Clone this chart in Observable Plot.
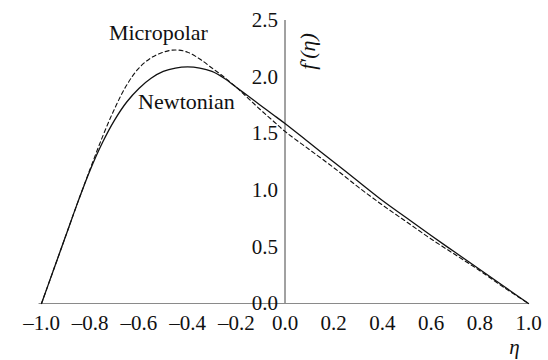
<!DOCTYPE html>
<html>
<head>
<meta charset="utf-8">
<script src="https://cdn.jsdelivr.net/npm/d3@7"></script>
<script src="https://cdn.jsdelivr.net/npm/@observablehq/plot@0.6"></script>
<style>
  html, body { margin: 0; padding: 0; background: #fff; }
  #chart { width: 548px; height: 360px; }
</style>
</head>
<body>
<div id="chart"></div>
<script>
// Velocity profile f'(η) across the channel, Newtonian vs micropolar fluid
const eta = [
  -1.0, -0.95, -0.9, -0.85, -0.8, -0.75, -0.7, -0.65, -0.6, -0.55, -0.5,
  -0.45, -0.4, -0.35, -0.3, -0.25, -0.2, -0.15, -0.1, -0.05, 0.0,
  0.1, 0.2, 0.3, 0.4, 0.5, 0.6, 0.7, 0.8, 0.9, 1.0
];
const newtonian = [
  0, 0.30, 0.60, 0.90, 1.18, 1.42, 1.62, 1.78, 1.90, 1.99, 2.05,
  2.08, 2.09, 2.08, 2.05, 1.99, 1.91, 1.83, 1.75, 1.67, 1.59,
  1.42, 1.25, 1.08, 0.91, 0.755, 0.60, 0.45, 0.30, 0.15, 0
];
const micropolar = [
  0, 0.30, 0.60, 0.90, 1.19, 1.47, 1.72, 1.93, 2.08, 2.17, 2.22,
  2.24, 2.22, 2.16, 2.08, 2.00, 1.91, 1.81, 1.71, 1.615, 1.52,
  1.36, 1.20, 1.03, 0.87, 0.72, 0.57, 0.43, 0.29, 0.14, 0
];

const xTicks = [-1.0, -0.8, -0.6, -0.4, -0.2, 0.0, 0.2, 0.4, 0.6, 0.8, 1.0];
const xTickLabels = ["–1.0", "–0.8", "–0.6", "–0.4", "–0.2", "0.0", "0.2", "0.4", "0.6", "0.8", "1.0"];
const yTicks = [0.0, 0.5, 1.0, 1.5, 2.0, 2.5];
const yTickLabels = ["0.0", "0.5", "1.0", "1.5", "2.0", "2.5"];

const seriesNames = ["Micropolar", "Newtonian"];
const seriesLabelX = [-0.52, -0.405];
const seriesLabelY = [2.39, 1.78];

const newtonianRows = eta.map((e, i) => ({eta: e, f: newtonian[i]}));
const micropolarRows = eta.map((e, i) => ({eta: e, f: micropolar[i]}));
const xTickRows = xTicks.map((v, i) => ({v, label: xTickLabels[i]}));
const yTickRows = yTicks.map((v, i) => ({v, label: yTickLabels[i]}));
const nameRows = seriesNames.map((n, i) => ({name: n, x: seriesLabelX[i], y: seriesLabelY[i]}));

const serif = "'Liberation Serif', 'Times New Roman', serif";

const chart = Plot.plot({
  width: 548,
  height: 360,
  marginLeft: 41,
  marginRight: 20,
  marginTop: 20,
  marginBottom: 57,
  style: {fontFamily: serif, background: "#fff", color: "#000"},
  x: {domain: [-1, 1], axis: null},
  y: {domain: [0, 2.5], axis: null},
  marks: [
    // axis lines
    Plot.ruleY([0], {x1: -1.01, x2: 1, stroke: "#8a8a8a", strokeWidth: 1.2}),
    Plot.ruleX([0], {y1: 0, y2: 2.5, stroke: "#444", strokeWidth: 1}),
    // x tick labels
    Plot.text(xTickRows, {
      x: "v", y: 0, text: "label", dy: 20,
      fontSize: 21, fill: "#111", fontFamily: serif
    }),
    // y tick labels, to the left of the vertical axis
    Plot.text(yTickRows, {
      x: 0, y: "v", text: "label", dx: -7, textAnchor: "end",
      fontSize: 21, fill: "#111", fontFamily: serif
    }),
    // axis titles
    Plot.text(["η"], {
      x: 1, y: 0, dx: -14, dy: 44, fontSize: 21, fontStyle: "italic",
      fill: "#111", fontFamily: serif
    }),
    Plot.text(["f′(η)"], {
      x: 0, y: 2.5, dx: 23, dy: 31, rotate: -90, fontSize: 22,
      fontStyle: "italic", fill: "#111", fontFamily: serif,
      style: "letter-spacing: 1.5px"
    }),
    // profiles
    Plot.line(micropolarRows, {
      x: "eta", y: "f", curve: "catmull-rom",
      stroke: "#111", strokeWidth: 1.1, strokeDasharray: "4,3"
    }),
    Plot.line(newtonianRows, {
      x: "eta", y: "f", curve: "catmull-rom",
      stroke: "#111", strokeWidth: 1.3
    }),
    // series names
    Plot.text(nameRows, {
      x: "x", y: "y", text: "name", fontSize: 22, fill: "#111", fontFamily: serif
    })
  ]
});

document.getElementById("chart").appendChild(chart);
</script>
</body>
</html>
